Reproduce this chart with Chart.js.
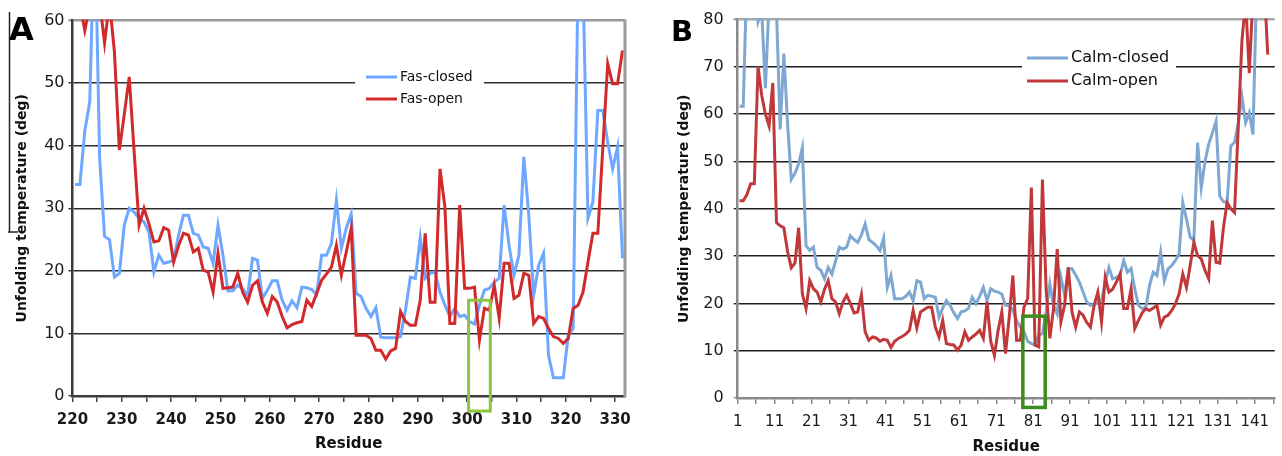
<!DOCTYPE html>
<html>
<head>
<meta charset="utf-8">
<title>Unfolding temperature per residue</title>
<script src="https://cdn.jsdelivr.net/npm/chart.js@4.4.1/dist/chart.umd.min.js"></script>
<style>
  html, body { margin: 0; padding: 0; background: #fff; }
  #wrap { position: relative; width: 1282px; height: 456px; overflow: hidden; }
  #fasChart { position: absolute; left: 0; top: 0; }
  #calmChart { position: absolute; left: 640px; top: 0; }
</style>
</head>
<body>
<div id="wrap">
  <canvas id="fasChart" width="640" height="456"></canvas>
  <canvas id="calmChart" width="642" height="456"></canvas>
</div>
<script>
// Panel A - Fas, residues 220..331
const fasFirstResidue = 220;
const fasClosed = [
  33.8, 33.8, 42.4, 47, 77, 38, 25.5, 25, 19, 19.6,
  27.3, 30, 29.4, 28.4, 27.8, 26.2, 19.8, 22.5, 21.2, 21.4,
  21.7, 25.7, 28.9, 28.9, 26, 25.7, 23.8, 23.6, 21.2, 27.3,
  22.5, 16.8, 16.8, 17.7, 17.1, 16.1, 22, 21.7, 15.6, 16.9,
  18.4, 18.4, 15.3, 13.7, 15.2, 14.1, 17.4, 17.3, 17, 16.2,
  22.5, 22.5, 24.4, 31.3, 23.6, 26.8, 29.1, 16.4, 15.9, 14,
  12.7, 14.1, 9.4, 9.3, 9.3, 9.3, 9.5, 13.7, 19, 18.8,
  25.3, 18.8, 19.6, 19.8, 16.6, 14.5, 12.7, 14, 12.7, 12.9,
  11.9, 11.5, 14.5, 16.9, 17.2, 18.2, 18.8, 30.5, 24.1, 19.3,
  22.5, 38.2, 28.9, 16.1, 20.9, 22.8, 6.5, 2.9, 2.9, 2.9,
  9.7, 10.8, 68, 66, 28.4, 31, 45.6, 45.6, 40.6, 36.3,
  39.8, 22
];
const fasOpen = [
  63, 62.5, 58.4, 62.5, 66, 63, 56.4, 63, 55, 39.3,
  45, 51, 39, 27.3, 30, 27.5, 24.6, 24.8, 26.9, 26.5,
  21.4, 24, 26, 25.7, 23, 23.6, 20.1, 19.8, 16.6, 22.8,
  17.2, 17.3, 17.4, 19.6, 16.6, 15, 17.7, 18.4, 15, 13.2,
  15.9, 15, 12.7, 10.9, 11.4, 11.7, 11.9, 15.3, 14.3, 16.4,
  18.5, 19.5, 20.6, 24.1, 19.3, 23, 26.8, 9.7, 9.7, 9.7,
  9.2, 7.3, 7.3, 5.9, 7.2, 7.6, 13.5, 11.9, 11.3, 11.3,
  15.3, 26, 15, 15, 36.3, 30.2, 11.6, 11.6, 30.5, 17.2,
  17.2, 17.4, 8.9, 14, 13.7, 17.7, 12.4, 21.2, 21.2, 15.6,
  16.1, 19.6, 19.3, 11.6, 12.7, 12.4, 10.8, 9.5, 9.2, 8.4,
  9.2, 14, 14.5, 16.6, 21.4, 26, 26, 39.5, 53.1, 49.9,
  49.9, 55.2
];
const fasTickLabels = [220, 230, 240, 250, 260, 270, 280, 290, 300, 310, 320, 330];
const fasHighlight = [299.8, 304.2, -2.4, 15.3]; // residue from/to, temperature from/to

// Panel B - calmodulin, residues 1..144
const calmFirstResidue = 1;
const calmClosed = [
  61.7, 61.7, 90, 88, 86, 79.5, 82, 65.5, 84, 88,
  82, 56.8, 72.8, 58, 46.2, 47.5, 49.5, 52.9, 32.2, 31.2,
  31.9, 27.6, 27, 25.2, 27.6, 26.2, 29, 31.9, 31.5, 31.9,
  34.3, 33.5, 32.9, 34.5, 36.8, 33.5, 32.9, 32.2, 31.2, 33.8,
  23.4, 25.9, 21, 21, 21, 21.5, 22.4, 20.6, 24.8, 24.5,
  21, 21.7, 21.5, 21.3, 17.1, 19, 20.6, 19.6, 18, 16.8,
  18.2, 18.4, 19, 21.3, 19.9, 21.5, 23.4, 20.6, 23.1, 22.6,
  22.4, 22, 19.6, 19.6, 18.5, 16.4, 15, 14, 12, 11.5,
  11.2, 13.3, 13.6, 18.2, 24.1, 19.6, 17.8, 25.5, 21.7, 27.3,
  27.3, 26, 24.5, 22.4, 20.3, 19.6, 19.8, 20, 20.6, 24.5,
  27.6, 25.2, 25.5, 25.9, 29.1, 26.6, 27.4, 23, 19.6, 18.9,
  19.2, 23.8, 26.6, 25.9, 30.8, 24.8, 27.3, 28, 29.1, 30.5,
  41.3, 37.8, 34, 33.3, 54, 44.5, 50, 53.6, 56, 58.5,
  42.7, 41.5, 41.3, 53.3, 54, 58, 63.8, 58.2, 60.3, 55.7,
  88, 95, 100, 100
];
const calmOpen = [
  41.7, 41.7, 43, 45.3, 45.3, 70.1, 64, 60, 57.5, 66.6,
  37.1, 36.4, 36, 31, 27.5, 28.5, 36, 22, 18.9, 24.8,
  23.1, 22.4, 20.3, 23, 24.8, 21, 20.3, 17.8, 20.3, 21.7,
  20, 18, 18.2, 21.8, 14, 12.2, 12.9, 12.7, 12, 12.4,
  12.2, 10.7, 12, 12.6, 13, 13.5, 14.3, 18.5, 14.8, 18.2,
  18.7, 19.2, 19.2, 15, 12.9, 16.4, 11.5, 11.3, 11.2, 10.1,
  11.2, 14, 12.2, 12.9, 13.5, 14.3, 12.6, 20.3, 12, 9,
  14.3, 18.2, 9.4, 17, 25.9, 12.2, 12.2, 19.2, 21, 44.5,
  11.2, 10.8, 46.2, 23, 12.6, 18.9, 31.5, 16.1, 19.6, 27.6,
  18.2, 15, 18.2, 17.5, 16, 15, 19.6, 22.4, 16.1, 25.5,
  22.4, 23, 24.5, 26.2, 18.9, 18.9, 23.1, 14.7, 16.4, 18,
  18.9, 18.5, 19, 19.6, 15.4, 17.1, 17.5, 18.5, 19.9, 22,
  26.2, 23.4, 28, 32.9, 30.1, 29.4, 27, 25.2, 37.5, 28.7,
  28.5, 36, 41.3, 40, 39.2, 57, 75.4, 84, 68.7, 85,
  88, 90, 88, 72.6
];
const calmTickLabels = [1, 11, 21, 31, 41, 51, 61, 71, 81, 91, 101, 111, 121, 131, 141];
const calmHighlight = [77.7, 83.75, -2, 17.3];

Chart.defaults.font.family = '"DejaVu Sans", Verdana, sans-serif';
Chart.defaults.color = '#1a1a1a';

function toPoints(first, values) {
  return values.map((v, i) => ({ x: first + i, y: v }));
}

// extra drawing: panel letter, legend box, highlight rectangle, frame bits
const decor = {
  id: 'decor',
  afterDraw(chart, args, o) {
    const ctx = chart.ctx;
    const area = chart.chartArea;
    ctx.save();
    if (o.rightBorder) {
      ctx.strokeStyle = o.rightBorder.color;
      ctx.lineWidth = o.rightBorder.width;
      ctx.beginPath();
      ctx.moveTo(area.right, area.top - 1);
      ctx.lineTo(area.right, area.bottom + 1);
      ctx.stroke();
    }
    if (o.bracket) {
      ctx.strokeStyle = '#222';
      ctx.lineWidth = 1.5;
      ctx.beginPath();
      ctx.moveTo(9.5, 12);
      ctx.lineTo(9.5, 232);
      ctx.moveTo(8, 232);
      ctx.lineTo(18, 232);
      ctx.stroke();
    }
    const lg = o.legend;
    ctx.fillStyle = '#fff';
    ctx.fillRect(lg.x, lg.y, lg.w, lg.h);
    chart.data.datasets.forEach((ds, i) => {
      const y = lg.rows[i];
      ctx.strokeStyle = ds.borderColor;
      ctx.lineWidth = ds.borderWidth;
      ctx.beginPath();
      ctx.moveTo(lg.lineX0, y);
      ctx.lineTo(lg.lineX1, y);
      ctx.stroke();
      ctx.fillStyle = '#111';
      ctx.font = lg.font;
      ctx.textBaseline = 'middle';
      ctx.textAlign = 'left';
      ctx.fillText(ds.label, lg.textX, y);
    });
    const b = o.box;
    const xs = chart.scales.x, ys = chart.scales.y;
    const x0 = xs.getPixelForValue(b.range[0]), x1 = xs.getPixelForValue(b.range[1]);
    const y0 = ys.getPixelForValue(b.range[2]), y1 = ys.getPixelForValue(b.range[3]);
    ctx.strokeStyle = b.color;
    ctx.lineWidth = b.width;
    ctx.strokeRect(x0, y1, x1 - x0, y0 - y1);
    ctx.fillStyle = '#000';
    ctx.font = o.letter.font;
    ctx.textBaseline = 'alphabetic';
    ctx.fillText(o.letter.text, o.letter.x, o.letter.y);
    ctx.restore();
  }
};

function residueAxis(cfg) {
  const { min, max, labels, bold, height, lineColor, tickColor, titlePad, tickPad } = cfg;
  return {
    type: 'linear',
    min: min,
    max: max,
    afterBuildTicks: (scale) => {
      const marks = labels.flatMap(l => [l, l + 5]).map(m => m - 0.5)
        .filter(v => v >= min && v <= max);
      scale.ticks = marks.map(v => ({ value: v }));
    },
    afterFit: (scale) => { scale.height = height; },
    ticks: {
      autoSkip: false, maxRotation: 0, minRotation: 0, padding: tickPad,
      font: { size: 15, weight: bold ? 'bold' : 'normal' },
      color: '#1a1a1a',
      callback: (v) => labels.includes(v + 0.5) ? String(v + 0.5) : ''
    },
    grid: { drawOnChartArea: false, drawTicks: true, tickLength: 6, color: tickColor, lineWidth: 1.5 },
    border: { color: lineColor, width: 2.5 },
    title: {
      display: true, text: 'Residue', color: '#111',
      font: { size: 15, weight: 'bold' },
      padding: { top: 0, bottom: titlePad }
    }
  };
}

function tempAxis(cfg) {
  const { max, width, lineColor, gridColor, topColor, titlePad, tickPad } = cfg;
  return {
    min: 0, max: max,
    afterFit: (scale) => { scale.width = width; },
    ticks: { stepSize: 10, padding: tickPad, font: { size: 16 }, color: '#1a1a1a' },
    grid: {
      tickLength: 4,
      color: (c) => c.tick && c.tick.value === max ? topColor : (c.tick && c.tick.value === 0 ? lineColor : gridColor),
      lineWidth: (c) => c.tick && c.tick.value === max ? 2.5 : 1.4
    },
    border: { color: lineColor, width: 2.5 },
    title: {
      display: true, text: 'Unfolding temperature (deg)', color: '#111',
      font: { size: 14, weight: 'bold' },
      padding: { top: titlePad, bottom: 0 }
    }
  };
}

function lineSet(label, first, values, color, order) {
  return {
    label: label,
    data: toPoints(first, values),
    borderColor: color,
    backgroundColor: color,
    borderWidth: 3,
    pointRadius: 0,
    tension: 0,
    clip: 1,
    order: order
  };
}

new Chart(document.getElementById('fasChart'), {
  type: 'line',
  data: {
    datasets: [
      lineSet('Fas-closed', fasFirstResidue, fasClosed, '#6ea7ff', 1),
      lineSet('Fas-open', fasFirstResidue, fasOpen, '#d22a2b', 0)
    ]
  },
  options: {
    responsive: false,
    animation: false,
    devicePixelRatio: 1,
    layout: { padding: { left: 0, top: 20.5, right: 14, bottom: 0 } },
    scales: {
      x: residueAxis({ min: 219.5, max: 331.5, labels: fasTickLabels, bold: true, height: 60,
        lineColor: '#3a3a3a', tickColor: '#444', titlePad: 3, tickPad: 9 }),
      y: tempAxis({ max: 60, width: 72.5, lineColor: '#3a3a3a', gridColor: '#2e2e2e',
        topColor: '#9a9a9a', titlePad: 14, tickPad: 4 })
    },
    plugins: {
      legend: { display: false },
      tooltip: { enabled: false },
      decor: {
        letter: { text: 'A', x: 9, y: 40, font: 'bold 32px "DejaVu Sans"' },
        legend: { x: 355, y: 64, w: 129, h: 46, rows: [77, 99], lineX0: 366, lineX1: 397, textX: 400,
          font: '14px "DejaVu Sans"' },
        box: { range: fasHighlight, color: '#8cc63f', width: 3 },
        rightBorder: { color: '#9a9a9a', width: 3 },
        bracket: true
      }
    }
  },
  plugins: [decor]
});

new Chart(document.getElementById('calmChart'), {
  type: 'line',
  data: {
    datasets: [
      lineSet('Calm-closed', calmFirstResidue, calmClosed, '#7ea7d1', 1),
      lineSet('Calm-open', calmFirstResidue, calmOpen, '#c1383a', 0)
    ]
  },
  options: {
    responsive: false,
    animation: false,
    devicePixelRatio: 1,
    layout: { padding: { left: 0, top: 18.3, right: 0, bottom: 0 } },
    scales: {
      x: residueAxis({ min: 0.5, max: 145.9, labels: calmTickLabels, bold: false, height: 58,
        lineColor: '#8a8a8a', tickColor: '#8a8a8a', titlePad: 0, tickPad: 8.7 }),
      y: tempAxis({ max: 80, width: 97.7, lineColor: '#8a8a8a', gridColor: '#1e1e1e',
        topColor: '#a8a8a8', titlePad: 35.6, tickPad: 10 })
    },
    plugins: {
      legend: { display: false },
      tooltip: { enabled: false },
      decor: {
        letter: { text: 'B', x: 31, y: 41, font: 'bold 29px "DejaVu Sans"' },
        legend: { x: 382, y: 45, w: 154, h: 48, rows: [58, 81], lineX0: 387, lineX1: 428, textX: 431,
          font: '16px "DejaVu Sans"' },
        box: { range: calmHighlight, color: '#3d8c1e', width: 3.5 },
        rightBorder: null,
        bracket: false
      }
    }
  },
  plugins: [decor]
});
</script>
</body>
</html>
